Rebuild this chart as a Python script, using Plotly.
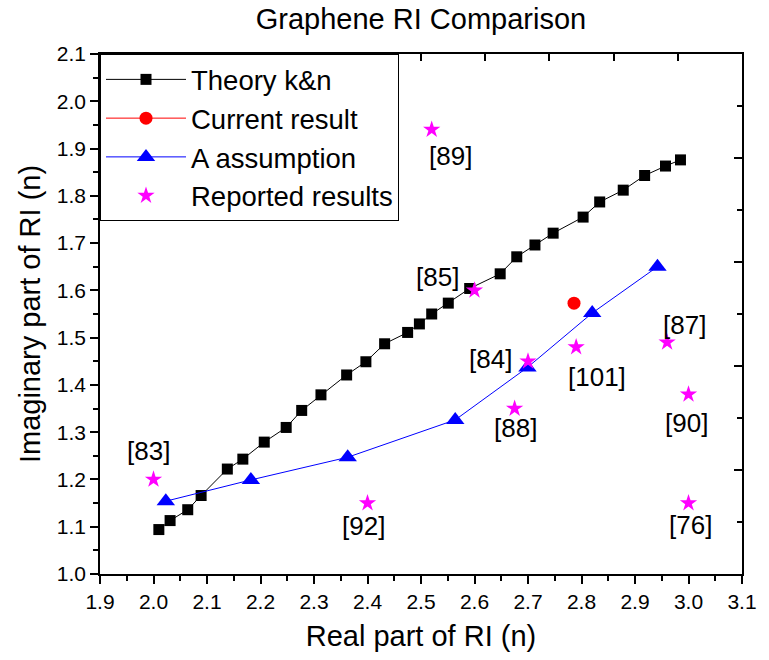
import plotly.graph_objects as go

# ---------------- data ----------------
theory_x = [2.010, 2.031, 2.064, 2.089, 2.138, 2.167, 2.207, 2.248, 2.277, 2.313,
            2.361, 2.397, 2.432, 2.475, 2.497, 2.520, 2.551, 2.591, 2.648, 2.679,
            2.713, 2.747, 2.803, 2.834, 2.878, 2.918, 2.957, 2.985]
theory_y = [1.094, 1.113, 1.136, 1.166, 1.222, 1.243, 1.279, 1.310, 1.346, 1.379,
            1.421, 1.449, 1.487, 1.511, 1.529, 1.550, 1.573, 1.604, 1.635, 1.671,
            1.696, 1.721, 1.755, 1.787, 1.812, 1.843, 1.863, 1.876]

current_x = [2.786]
current_y = [1.573]

assump_x = [2.023, 2.182, 2.363, 2.564, 2.699, 2.820, 2.942]
assump_y = [1.154, 1.199, 1.247, 1.326, 1.437, 1.552, 1.650]

reported_x = [2.00, 2.40, 2.52, 2.60, 2.70, 2.675, 2.79, 2.96, 3.00, 3.00]
reported_y = [1.20, 1.15, 1.94, 1.60, 1.45, 1.35, 1.48, 1.49, 1.38, 1.15]
reported_labels = ["[83]", "[92]", "[89]", "[85]", "[84]", "[88]", "[101]", "[87]", "[90]", "[76]"]

x_range = [1.9, 3.1]
y_range = [1.0, 2.1]

# label offsets in pixels (layout only)
label_offsets = {
    "[83]": (-5, 28), "[92]": (-4, -23), "[89]": (19, -26), "[85]": (-37, 13),
    "[84]": (-38, 2), "[88]": (1, -19), "[101]": (21, -30), "[87]": (17, 17),
    "[90]": (-2, -29), "[76]": (2, -22),
}

FONT = "Liberation Sans, Arial, sans-serif"

fig = go.Figure()
fig.add_trace(go.Scatter(x=theory_x, y=theory_y, mode="lines+markers", name="Theory k&n",
                         line=dict(color="black", width=1),
                         marker=dict(symbol="square", size=11, color="black")))
fig.add_trace(go.Scatter(x=current_x, y=current_y, mode="lines+markers", name="Current result",
                         line=dict(color="#FF0000", width=1),
                         marker=dict(symbol="circle", size=13, color="#FF0000")))
fig.add_trace(go.Scatter(x=assump_x, y=assump_y, mode="lines+markers", name="A assumption",
                         line=dict(color="#0000FF", width=1),
                         marker=dict(symbol="triangle-up", size=16, color="#0000FF")))
fig.add_trace(go.Scatter(x=reported_x, y=reported_y, mode="markers", name="Reported results",
                         marker=dict(symbol="star", size=13, color="#FF00FF", line=dict(width=0))))
# dummy trace to show the opposite (top/right) axes
fig.add_trace(go.Scatter(x=[None], y=[None], xaxis="x2", yaxis="y2", showlegend=False,
                         hoverinfo="skip"))

for xv, yv, lab in zip(reported_x, reported_y, reported_labels):
    dx, dy = label_offsets[lab]
    fig.add_annotation(x=xv, y=yv, text=lab, showarrow=False, xshift=dx, yshift=dy,
                       font=dict(family=FONT, size=26, color="black"))

axis_common = dict(showgrid=False, zeroline=False, showline=True, linecolor="black",
                   linewidth=1.5, ticks="outside", tickwidth=1.5, tickcolor="black",
                   ticklen=8, tickfont=dict(family=FONT, size=21, color="black"))

fig.update_layout(
    width=769, height=660,
    margin=dict(l=100, r=17, t=54, b=86),
    paper_bgcolor="white", plot_bgcolor="white",
    font=dict(family=FONT, color="black"),
    title=dict(text="Graphene RI Comparison", x=0.5, xref="paper", y=1 - 19 / 660,
               yanchor="middle", xanchor="center", font=dict(family=FONT, size=29, color="black")),
    xaxis=dict(range=x_range, tick0=1.9, dtick=0.1, tickformat=".1f",
               minor=dict(ticks="outside", dtick=0.05, ticklen=5, tickwidth=1.5, tickcolor="black"),
               title=dict(text="Real part of RI (n)", font=dict(family=FONT, size=29), standoff=14),
               **axis_common),
    yaxis=dict(range=y_range, tick0=1.0, dtick=0.1, tickformat=".1f",
               minor=dict(ticks="outside", dtick=0.05, ticklen=5, tickwidth=1.5, tickcolor="black"),
               title=dict(text="Imaginary part of RI (n)", font=dict(family=FONT, size=29), standoff=8),
               **axis_common),
    xaxis2=dict(overlaying="x", side="top", range=[0, 10], dtick=1, ticks="inside", ticklen=7,
                tickwidth=1.5, tickcolor="black", showticklabels=False, showgrid=False,
                zeroline=False, showline=True, linecolor="black", linewidth=1.5),
    yaxis2=dict(overlaying="y", side="right", range=[0, 10], dtick=2, ticks="inside", ticklen=8,
                tickwidth=1.5, tickcolor="black", showticklabels=False, showgrid=False,
                zeroline=False, showline=True, linecolor="black", linewidth=1.5,
                minor=dict(ticks="inside", dtick=1, ticklen=5, tickwidth=1.5, tickcolor="black")),
    legend=dict(x=0, y=1, xanchor="left", yanchor="top", bordercolor="black", borderwidth=1,
                bgcolor="white", itemwidth=80, tracegroupgap=0,
                font=dict(family=FONT, size=27.5, color="black")),
    showlegend=True,
)

fig.write_html("out.html")
